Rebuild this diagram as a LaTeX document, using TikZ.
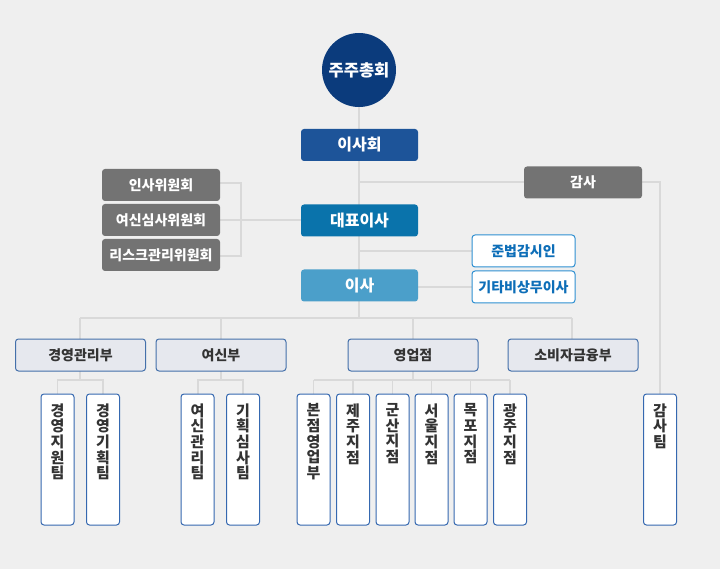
\documentclass[tikz,border=0pt]{standalone}
\usepackage{fontspec}
\setmainfont{Noto Sans CJK KR}
\definecolor{bg}{HTML}{EFEFEF}
\definecolor{navy}{HTML}{0B3B7C}
\definecolor{board}{HTML}{1D5499}
\definecolor{ceoc}{HTML}{0A73AB}
\definecolor{dirc}{HTML}{4B9FCA}
\definecolor{grayc}{HTML}{737373}
\definecolor{linec}{HTML}{D9D9D9}
\definecolor{outb}{HTML}{2E8FD1}
\definecolor{outt}{HTML}{0D6EB8}
\definecolor{deptf}{HTML}{E6E8EE}
\definecolor{deptb}{HTML}{4470AA}
\definecolor{teamb}{HTML}{3568B0}
\definecolor{txt}{HTML}{333333}
\begin{document}
\begin{tikzpicture}[x=1pt,y=-1pt,
  conn/.style={draw=linec,line width=1.5pt},
  solidbox/.style={rounded corners=3pt,minimum width=117pt,minimum height=32pt,text=white,font=\fontsize{16}{16}\selectfont\bfseries,inner sep=0pt},
  graybox/.style={fill=grayc,rounded corners=3pt,minimum width=118pt,minimum height=32pt,text=white,font=\fontsize{14}{14}\selectfont\bfseries,inner sep=0pt},
  outbox/.style={fill=white,draw=outb,line width=1pt,rounded corners=3pt,minimum width=103pt,minimum height=32pt,text=outt,font=\fontsize{14}{14}\selectfont\bfseries,inner sep=0pt},
  deptbox/.style={fill=deptf,draw=deptb,line width=1pt,rounded corners=3pt,minimum width=130pt,minimum height=32pt,text=txt,font=\fontsize{14}{14}\selectfont\bfseries,inner sep=0pt},
  teambox/.style={fill=white,draw=teamb,line width=1pt,rounded corners=3pt,minimum width=33pt,minimum height=131pt,inner sep=0pt},
  vt/.style={anchor=north,yshift=-10pt,align=center,text=txt,font=\fontsize{15}{15.6}\selectfont\bfseries,inner sep=0pt}
]
\fill[bg] (0,0) rectangle (720,569);
\useasboundingbox (0,0) rectangle (720,569);

% coordinates
\coordinate (hub) at (359,318);
\coordinate (j1) at (359,182);
\coordinate (j1r) at (660,182);
\coordinate (j2) at (359,251);
\coordinate (hl) at (80,318);
\coordinate (hr) at (572,318);
\coordinate (br1) at (241,183);
\coordinate (br3) at (241,256);

% connectors first
\draw[conn] (359,107) coordinate (cb) -- (hub);
\draw[conn] (j1) -- (j1r) -- (660,394) coordinate (gtt);
\draw[conn] (220,183) coordinate (c1e) -- (br1) -- (br3) -- (220,256) coordinate (c3e);
\draw[conn] (220,220) coordinate (c2e) -- (301,220) coordinate (ceow);
\draw[conn] (j2) -- (472,251) coordinate (junw);
\draw[conn] (418,287) coordinate (isae) -- (472,287) coordinate (gitaw);
\draw[conn] (hl) -- (hr);
\foreach \x in {80,221,413,572} \draw[conn] (\x,318) -- (\x,339);
% dept to teams
\draw[conn] (80,371) -- (80,380);
\draw[conn] (57.5,394) -- (57.5,380) -- (103,380) -- (103,394);
\draw[conn] (221,371) -- (221,380);
\draw[conn] (198,394) -- (198,380) -- (243,380) -- (243,394);
\draw[conn] (413,371) -- (413,380);
\draw[conn] (313.5,380) -- (510,380);
\foreach \x in {313.5,353,392.5,431.5,470.5,510} \draw[conn] (\x,380) -- (\x,394);

% top nodes
\node[circle,fill=navy,minimum size=74pt,inner sep=0pt,text=white,font=\fontsize{16.5}{16.5}\selectfont\bfseries] (top) at (359,70) {주주총회};
\node[solidbox,fill=board] (board) at (359.5,145) {이사회};
\node[solidbox,fill=ceoc] (ceo) at (359.5,220.5) {대표이사};
\node[solidbox,fill=dirc] (dir) at (359.5,285.5) {이사};
\node[graybox] (c1) at (161,185) {인사위원회};
\node[graybox] (c2) at (161,220) {여신심사위원회};
\node[graybox] (c3) at (161,255) {리스크관리위원회};
\node[graybox] (audit) at (583,182.5) {감사};
\node[outbox] (jun) at (523.5,251) {준법감시인};
\node[outbox] (gita) at (523.5,287) {기타비상무이사};

% departments
\node[deptbox] (d1) at (80.5,355) {경영관리부};
\node[deptbox] (d2) at (221,355) {여신부};
\node[deptbox] (d3) at (413,355) {영업점};
\node[deptbox] (d4) at (573,355) {소비자금융부};

% teams
\node[teambox] (t1) at (57.5,459.5) {};
\node[vt] (t1l) at (t1.north) {경\\영\\지\\원\\팀};
\node[teambox] (t2) at (103,459.5) {};
\node[vt] (t2l) at (t2.north) {경\\영\\기\\획\\팀};
\node[teambox] (t3) at (197.5,459.5) {};
\node[vt] (t3l) at (t3.north) {여\\신\\관\\리\\팀};
\node[teambox] (t4) at (243,459.5) {};
\node[vt] (t4l) at (t4.north) {기\\획\\심\\사\\팀};
\node[teambox] (t5) at (313.5,459.5) {};
\node[vt] (t5l) at (t5.north) {본\\점\\영\\업\\부};
\node[teambox] (t6) at (353,459.5) {};
\node[vt] (t6l) at (t6.north) {제\\주\\지\\점};
\node[teambox] (t7) at (392.5,459.5) {};
\node[vt] (t7l) at (t7.north) {군\\산\\지\\점};
\node[teambox] (t8) at (431.5,459.5) {};
\node[vt] (t8l) at (t8.north) {서\\울\\지\\점};
\node[teambox] (t9) at (470.5,459.5) {};
\node[vt] (t9l) at (t9.north) {목\\포\\지\\점};
\node[teambox] (t10) at (510,459.5) {};
\node[vt] (t10l) at (t10.north) {광\\주\\지\\점};
\node[teambox] (t11) at (660,459.5) {};
\node[vt] (t11l) at (t11.north) {감\\사\\팀};
\end{tikzpicture}
\end{document}
